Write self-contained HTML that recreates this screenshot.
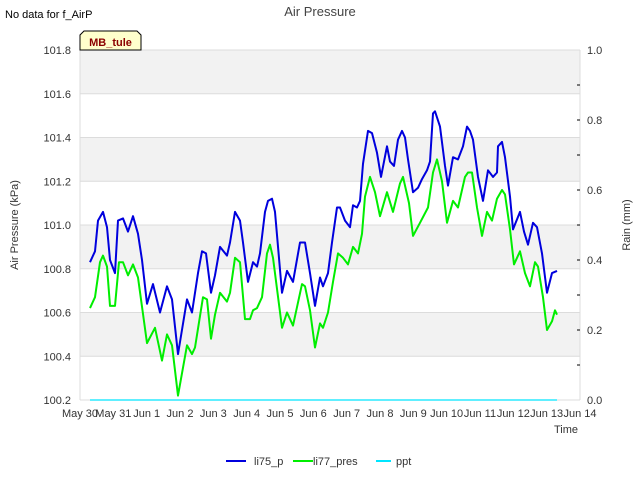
<!DOCTYPE html>
<html><head><meta charset="utf-8"><style>
body{margin:0;background:#fff;}
svg{display:block;font-family:"Liberation Sans","DejaVu Sans",sans-serif;}
</style></head><body>
<svg id="chart" width="640" height="480" viewBox="0 0 640 480">
<text x="5" y="18" font-size="11" fill="#000">No data for f_AirP</text>
<text x="320" y="16" font-size="13" fill="#444" text-anchor="middle">Air Pressure</text>
<g id="bands"></g>
<g id="grid"></g>
<g id="yticks"></g>
<g id="rticks"></g>
<g id="xticks"></g>
<g id="series"></g>
<text transform="translate(18,225) rotate(-90)" font-size="11" fill="#333" text-anchor="middle">Air Pressure (kPa)</text>
<text transform="translate(630,225) rotate(-90)" font-size="11" fill="#333" text-anchor="middle">Rain (mm)</text>
<text x="578" y="433" font-size="11" fill="#333" text-anchor="end">Time</text>
<g>
<path d="M80,50 L80,35 L84,31 L137,31 L141,35 L141,50 Z" fill="#ffffcc" stroke="#000" stroke-width="1"/>
<text x="110.5" y="46" font-size="11" font-weight="bold" fill="#8b0000" text-anchor="middle">MB_tule</text>
</g>
<g>
<g><line x1="226" y1="461" x2="246" y2="461" stroke="#0000dd" stroke-width="2"/><text x="254" y="465" font-size="11" fill="#333">li75_p</text></g>
<g><line x1="293" y1="461" x2="313" y2="461" stroke="#00ee00" stroke-width="2"/><text x="313" y="465" font-size="11" fill="#333">li77_pres</text></g>
<g><line x1="376" y1="461" x2="391" y2="461" stroke="#00e5ff" stroke-width="2"/><text x="396" y="465" font-size="11" fill="#333">ppt</text></g>
</g>
</svg>
<script>
const xTickLabels=["May 30","May 31","Jun 1","Jun 2","Jun 3","Jun 4","Jun 5","Jun 6","Jun 7","Jun 8","Jun 9","Jun 10","Jun 11","Jun 12","Jun 13","Jun 14"];
const yTicks=[100.2,100.4,100.6,100.8,101.0,101.2,101.4,101.6,101.8];
const rTicks=[0.0,0.2,0.4,0.6,0.8,1.0];
const bluDays=[0.30,0.45,0.54,0.69,0.81,0.90,1.05,1.14,1.29,1.44,1.59,1.74,1.86,2.01,2.19,2.40,2.61,2.76,2.94,3.21,3.36,3.54,3.66,3.78,3.93,4.05,4.20,4.41,4.50,4.65,4.80,4.89,5.04,5.19,5.31,5.40,5.55,5.64,5.76,5.85,6.06,6.21,6.39,6.60,6.75,6.90,7.05,7.20,7.29,7.44,7.56,7.71,7.80,7.95,8.10,8.19,8.31,8.40,8.49,8.64,8.76,8.91,9.03,9.21,9.30,9.42,9.54,9.66,9.75,9.84,9.99,10.14,10.26,10.41,10.50,10.59,10.65,10.80,10.95,11.04,11.19,11.34,11.49,11.61,11.70,11.79,11.94,12.09,12.24,12.39,12.51,12.54,12.66,12.75,12.90,12.99,13.20,13.32,13.44,13.59,13.71,13.86,14.01,14.16,14.31];
const li75_p=[100.83,100.88,101.02,101.06,100.99,100.84,100.78,101.02,101.03,100.97,101.04,100.96,100.84,100.64,100.73,100.60,100.72,100.66,100.41,100.66,100.60,100.78,100.88,100.87,100.69,100.77,100.90,100.86,100.92,101.06,101.02,100.92,100.74,100.83,100.81,100.87,101.06,101.11,101.12,101.06,100.69,100.79,100.74,100.92,100.92,100.78,100.63,100.76,100.72,100.78,100.92,101.08,101.08,101.02,100.99,101.09,101.08,101.11,101.28,101.43,101.42,101.33,101.22,101.36,101.29,101.27,101.39,101.43,101.40,101.30,101.15,101.17,101.21,101.25,101.29,101.51,101.52,101.45,101.27,101.18,101.31,101.30,101.36,101.45,101.43,101.39,101.22,101.11,101.25,101.22,101.24,101.36,101.38,101.31,101.13,100.98,101.06,100.97,100.91,101.01,100.99,100.87,100.69,100.78,100.79];
const grnDays=[0.30,0.45,0.60,0.69,0.81,0.90,1.05,1.17,1.29,1.44,1.59,1.74,2.01,2.25,2.46,2.61,2.76,2.94,3.21,3.36,3.45,3.69,3.81,3.93,4.05,4.20,4.41,4.50,4.65,4.80,4.95,5.10,5.19,5.31,5.46,5.61,5.70,5.79,6.06,6.21,6.39,6.66,6.75,6.90,7.05,7.20,7.29,7.44,7.59,7.74,7.89,8.04,8.19,8.34,8.46,8.55,8.70,8.85,9.00,9.21,9.39,9.60,9.69,9.87,9.99,10.20,10.44,10.59,10.71,10.86,11.01,11.19,11.34,11.55,11.64,11.76,11.91,12.06,12.21,12.36,12.51,12.66,12.75,12.90,13.02,13.20,13.35,13.50,13.65,13.74,13.89,14.01,14.16,14.25,14.31];
const li77_pres=[100.62,100.67,100.83,100.86,100.81,100.63,100.63,100.83,100.83,100.77,100.82,100.76,100.46,100.53,100.38,100.50,100.45,100.22,100.45,100.41,100.44,100.67,100.66,100.48,100.59,100.69,100.65,100.69,100.85,100.83,100.57,100.57,100.61,100.62,100.67,100.87,100.91,100.85,100.53,100.60,100.54,100.73,100.72,100.61,100.44,100.55,100.53,100.60,100.74,100.87,100.85,100.82,100.90,100.87,100.96,101.13,101.22,101.15,101.04,101.15,101.06,101.19,101.22,101.10,100.95,101.01,101.08,101.24,101.30,101.20,101.01,101.11,101.08,101.22,101.24,101.24,101.08,100.95,101.06,101.02,101.12,101.16,101.14,100.98,100.82,100.88,100.78,100.72,100.83,100.81,100.67,100.52,100.56,100.61,100.59];
const pptDays=[0.30,14.31];
const ppt=[0,0];

const X0=80,X1=580,Y0=50,Y1=400;
const xs=d=>X0+(X1-X0)*d/15;
const ys=v=>Y1-(Y1-Y0)*(v-100.2)/1.6;
const yr=v=>Y1-(Y1-Y0)*v/1.0;
const NS="http://www.w3.org/2000/svg";
function mk(tag,attrs,parent){const e=document.createElementNS(NS,tag);for(const k in attrs)e.setAttribute(k,attrs[k]);parent.appendChild(e);return e;}

const bands=document.getElementById('bands');
const bg=mk('rect',{x:X0,y:Y0,width:X1-X0,height:Y1-Y0,fill:'#fff'},bands);
for(let i=0;i<yTicks.length-1;i++){
  if(i%2===1){
    const r=mk('rect',{x:X0,y:ys(yTicks[i+1]),width:X1-X0,height:ys(yTicks[i])-ys(yTicks[i+1]),fill:'#f2f2f2'},bands);
    
    
  }
}
const grid=document.getElementById('grid');
yTicks.forEach(v=>{mk('line',{x1:X0,x2:X1,y1:ys(v),y2:ys(v),stroke:'#dcdcdc','stroke-width':1},grid);});
mk('line',{x1:X0,x2:X0,y1:Y0,y2:Y1,stroke:'#dcdcdc'},grid);
mk('line',{x1:X1,x2:X1,y1:Y0,y2:Y1,stroke:'#dcdcdc'},grid);

const yt=document.getElementById('yticks');
yTicks.forEach(v=>{
  const t=mk('text',{x:71,y:ys(v)+4,'font-size':11,fill:'#333','text-anchor':'end'},yt);
  t.textContent=v.toFixed(1);
  
  
});
const rt=document.getElementById('rticks');
rTicks.forEach(v=>{
  const t=mk('text',{x:587,y:yr(v)+4,'font-size':11,fill:'#333'},rt);
  t.textContent=v.toFixed(1);
  
  
});
for(let k=1;k<10;k++){mk('line',{x1:577,x2:580,y1:yr(k/10),y2:yr(k/10),stroke:'#000','stroke-width':1},rt);}
const xt=document.getElementById('xticks');
xTickLabels.forEach((s,i)=>{
  const t=mk('text',{x:xs(i),y:417,'font-size':11,fill:'#333','text-anchor':'middle'},xt);
  t.textContent=s;
  
  
});

const ser=document.getElementById('series');
function line(days,vals,sc,color,w,name){
  const p=mk('polyline',{points:days.map((d,i)=>xs(d).toFixed(1)+','+sc(vals[i]).toFixed(1)).join(' '),fill:'none',stroke:color,'stroke-width':w,'stroke-linejoin':'round'},ser);
  
  
}
line(pptDays,ppt,yr,'#00e5ff',1.2,'ppt-line');
line(grnDays,li77_pres,ys,'#00ee00',2,'li77-pres-line');
line(bluDays,li75_p,ys,'#0000dd',2,'li75-p-line');
</script>
</body></html>
